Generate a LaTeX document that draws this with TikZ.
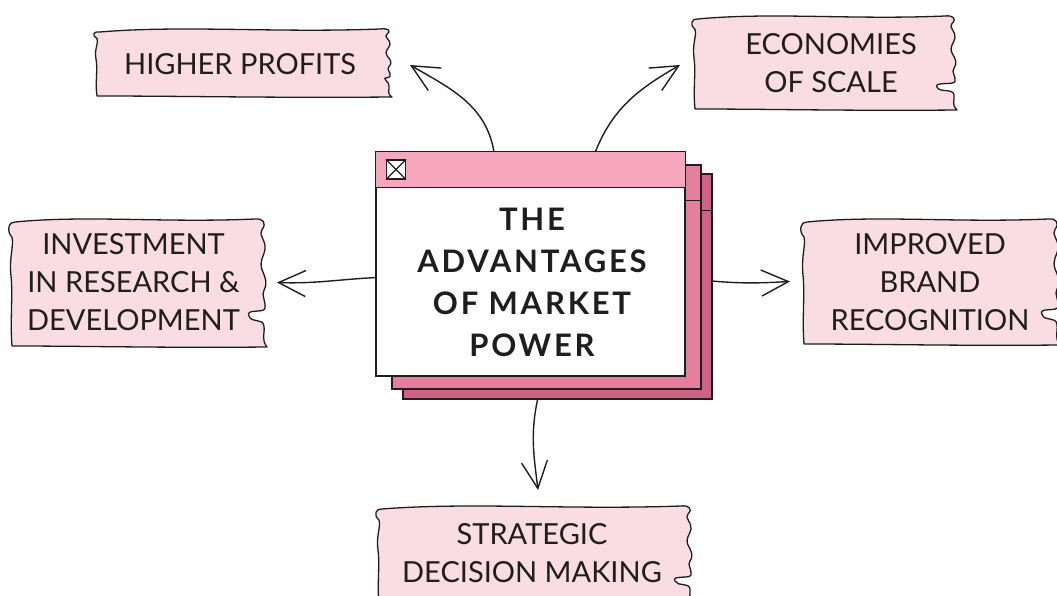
\documentclass[tikz,border=0pt]{standalone}
\usepackage{fontspec}
\setmainfont{Lato}
\newfontfamily\titlefont[LetterSpace=9]{Lato}
\usetikzlibrary{arrows.meta,calc}
\definecolor{ink}{HTML}{1E1E1E}
\definecolor{boxpink}{HTML}{FADDE4}
\definecolor{barpink}{HTML}{F7A7BB}
\definecolor{midpink}{HTML}{E37E9C}
\definecolor{darkpink}{HTML}{D15F86}
\tikzset{
  torn/.style={fill=boxpink, draw=ink, line width=1.3pt, line join=round},
  win/.style={draw=ink, line width=1.3pt},
  conn/.style={draw=ink, line width=1.4pt, line cap=round, -{Straight Barb[length=27pt, width=26pt]}},
  lbl/.style={font=\fontsize{29}{38}\selectfont, align=center, inner sep=0pt, text=ink},
  ttl/.style={font=\titlefont\fontsize{31}{42}\selectfont\bfseries, align=center, inner sep=0pt, text=ink},
  area/.style={draw=none, fill=none, inner sep=0pt, outer sep=0pt},
}
\newcommand\tornbox[5]{%
\begin{scope}[shift={(#1,#2)}]
\pgfmathsetmacro\BW{#3}%
\pgfmathsetmacro\BH{#4}%
\pgfmathsetmacro\BT{#5}%
\filldraw[torn]
 (5,4) .. controls ({0.3*\BW},-3) and ({0.6*\BW},5) .. ({\BW-12},1)
 .. controls ({\BW-4},0) and ({\BW},{0.04*\BH}) .. ({\BW-5},{0.09*\BH})
 .. controls ({\BW-9},{0.13*\BH}) and ({\BW-1},{0.17*\BH}) .. ({\BW-2},{0.24*\BH})
 .. controls ({\BW-3},{0.3*\BH}) and ({\BW-8},{0.33*\BH}) .. ({\BW-5},{0.4*\BH})
 .. controls ({\BW-2},{0.46*\BH}) and ({\BW+1},{0.5*\BH}) .. ({\BW-3},{0.56*\BH})
 .. controls ({\BW-6},{0.6*\BH}) and ({\BW-1},{0.64*\BH}) .. ({\BW-2},{0.7*\BH})
 .. controls ({\BW-3},{0.74*\BH}) and ({\BW-\BT-4},{0.7*\BH}) .. ({\BW-\BT},{0.76*\BH})
 .. controls ({\BW-\BT+3},{0.82*\BH}) and ({\BW-4},{0.77*\BH}) .. ({\BW-3},{0.84*\BH})
 .. controls ({\BW-2},{0.9*\BH}) and ({\BW-6},{0.94*\BH}) .. ({\BW},{\BH})
 .. controls ({0.6*\BW},{\BH+1}) and ({0.3*\BW},{\BH-1}) .. (2,{\BH-1})
 .. controls (0,{0.8*\BH}) and (3,{0.6*\BH}) .. (1,{0.45*\BH})
 .. controls (-1,{0.3*\BH}) and (4,{0.22*\BH}) .. (2,{0.15*\BH})
 .. controls (-4,{0.1*\BH}) and (-1,3) .. cycle;
\end{scope}}
\begin{document}
\begin{tikzpicture}[x=1pt,y=-1pt]
\useasboundingbox (0,0) rectangle (1057,596);
\clip (0,0) rectangle (1057,596);
\fill[white] (0,0) rectangle (1057,596);

% torn callout boxes
\tornbox{95}{28}{297}{69}{6}
\tornbox{693}{15}{264}{95}{20}
\tornbox{10}{218}{257}{129}{18}
\tornbox{802}{218}{258}{127}{18}
\tornbox{377}{505}{316}{100}{18}

\node[area, minimum width=297pt, minimum height=69pt] (hp) at (243.5,62.5) {};
\node[area, minimum width=264pt, minimum height=95pt] (eco) at (825,62.5) {};
\node[area, minimum width=257pt, minimum height=129pt] (inv) at (138.5,282.5) {};
\node[area, minimum width=258pt, minimum height=127pt] (imp) at (931,281.5) {};
\node[area, minimum width=316pt, minimum height=100pt] (str) at (535,555) {};

\node[lbl] (hp-t) at (240,63.7) {HIGHER PROFITS};
\node[lbl] (eco-t) at (831,63) {ECONOMIES\\OF SCALE};
\node[lbl] (inv-t) at (133.5,281.7) {INVESTMENT\\IN RESEARCH \&\\DEVELOPMENT};
\node[lbl] (imp-t) at (930,282.5) {IMPROVED\\BRAND\\RECOGNITION};
\node[lbl] (str-t) at (532,553) {STRATEGIC\\DECISION MAKING};

% stacked windows
\node[win, fill=darkpink, minimum width=309pt, minimum height=225pt, inner sep=0pt] (back3) at (557.5,286.5) {};
\draw[win] ([yshift=-37]back3.north west) -- ([yshift=-37]back3.north east);
\node[win, fill=midpink, minimum width=309pt, minimum height=224pt, inner sep=0pt] (back2) at (546.5,277) {};
\draw[win] ([yshift=-36]back2.north west) -- ([yshift=-36]back2.north east);
\node[win, fill=white, minimum width=309pt, minimum height=224pt, inner sep=0pt] (main) at (530.5,264) {};
\filldraw[win, fill=barpink] (main.north west) rectangle ([yshift=-36]main.north east);
\node[draw=ink, line width=1.1pt, fill=white, minimum size=19pt, inner sep=0pt] (close) at (396,169.5) {};
\draw[ink, line width=1.1pt] (close.north west) -- (close.south east) (close.north east) -- (close.south west);
\node[ttl] (title) at (532,282.75) {THE\\ADVANTAGES\\OF MARKET\\POWER};

% connectors
\draw[conn] (main.108.5) to[out=100,in=-30] ([xshift=18,yshift=-2.5]hp.east);
\draw[conn] (main.60.5) to[out=68,in=210] ([xshift=-13,yshift=-2.5]eco.west);
\draw[conn] (main.185) to[out=183,in=-2] ([xshift=10]inv.east);
\draw[conn] (back3.2.4) to[out=-5,in=183] ([xshift=-12]imp.west);
\draw[conn] (back3.260.7) to[out=258,in=97] ([xshift=3,yshift=15]str.north);
\end{tikzpicture}
\end{document}
